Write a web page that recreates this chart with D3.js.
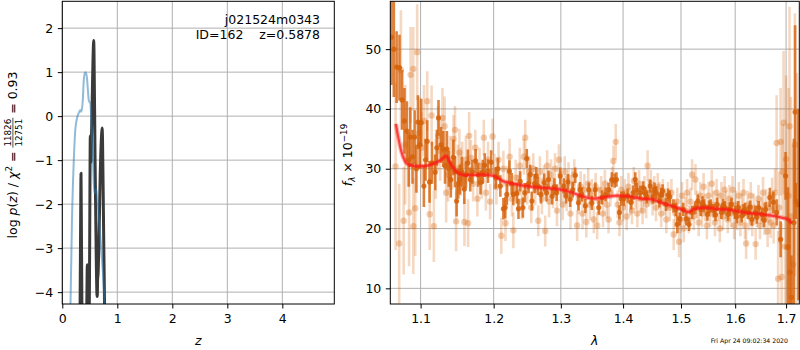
<!DOCTYPE html>
<html>
<head>
<meta charset="utf-8">
<script src="https://cdn.jsdelivr.net/npm/d3@7"></script>
<style>
  body { margin: 0; background: #fff; }
  text { font-family: "DejaVu Sans", sans-serif; }
</style>
</head>
<body>
<div id="chart"></div>
<script>
// ---- left panel: log p(z) ----
var blueZ = [0.140,0.150,0.176,0.207,0.236,0.267,0.298,0.328,0.345,0.371,0.389,0.405,0.419,0.434,0.449,0.465,0.480,0.495,0.509,0.527,0.553,0.582,0.600,0.618,0.632,0.649,0.670,0.691,0.713,0.735,0.760,0.780]
var blueV = [-5.0,-4.2,-2.36,-1.07,-0.31,-0.05,0.07,0.14,0.10,0.33,0.79,0.96,1.0,0.97,0.86,0.6,0.37,0.32,0.3,-0.08,-0.84,-1.75,-1.7,-1.67,-1.85,-2.05,-2.4,-2.74,-3.1,-3.49,-4.0,-4.6]

var darkZ = [0.300,0.322,0.336,0.340,0.344,0.358,0.400,0.440,0.451,0.455,0.459,0.475,0.490,0.503,0.509,0.514,0.519,0.535,0.555,0.566,0.571,0.576,0.595,0.618,0.630,0.636,0.642,0.650,0.662,0.690,0.715,0.724,0.731,0.752,0.775,0.800]
var darkV = [-8,-4.6,-1.9,-1.3,-1.9,-4.6,-7,-5,-3.6,-3.38,-3.6,-5,-4.6,-1.5,-0.45,-0.8,-1.05,-0.2,1.1,1.62,1.72,1.5,-0.9,-3.3,-4.05,-4.1,-3.7,-3.6,-3.1,-1.3,-0.4,-0.27,-0.5,-2.7,-5,-8]

var zTicks = [0, 1, 2, 3, 4]
var lpTicks = [-4, -3, -2, -1, 0, 1, 2]

// ---- right panel: spectrum [wave, flux, err] ----
var modelWave = [1.068,1.075,1.084,1.099,1.112,1.126,1.134,1.141,1.150,1.161,1.183,1.200,1.214,1.233,1.254,1.273,1.300,1.315,1.336,1.352,1.368,1.391,1.407,1.430,1.447,1.469,1.493,1.504,1.513,1.522,1.540,1.567,1.593,1.617,1.649,1.676,1.692,1.702,1.712]
var modelFlux = [37.5,32.9,30.7,30.4,30.6,31.4,32.1,30.6,29.3,28.9,29.0,28.8,27.9,27.4,27.0,26.8,26.5,26.1,25.3,25.0,25.2,25.5,25.4,25.0,24.9,24.2,23.5,23.1,22.75,23.2,23.5,23.3,23.1,22.7,22.4,22.1,21.8,21.6,20.9]

var lightPoints = [
  [1.0677,30.4,14],[1.0723,17.5,10],[1.0745,46.5,10],[1.078,21.3,9],[1.080,34,10],[1.085,22.7,9],
  [1.087,45.7,8],[1.0904,46.7,7],[1.0905,20.4,8],[1.093,23.4,8],[1.0955,49.5,8],[1.098,36,6],
  [1.101,33.5,6],[1.1045,38,6],[1.1087,41.3,5],[1.112,22.4,6],[1.1145,38.9,5],[1.1175,20.4,6],
  [1.120,30,5],[1.123,35.5,5],[1.126,33,5],[1.129,38.5,5],[1.132,37.1,5],[1.134,26,5],
  [1.1365,29,4.5],[1.139,31,4.5],[1.142,30.5,4],[1.144,35,4],[1.146,36.5,4],[1.1475,21.2,5],
  [1.150,30,4],[1.152,32.7,4],[1.154,29.5,4],[1.156,30.5,4],[1.159,21.1,4],[1.161,31.5,4],
  [1.164,20.9,4],[1.1655,35.5,4],
  [1.168,31.8,3],[1.171,27.5,3],[1.174,33.5,3],[1.177,25,3],[1.180,30.5,3],[1.183,28,3],
  [1.186,35.2,3],[1.189,26,3],[1.192,31.5,3],[1.195,24.5,3],[1.1985,35.4,3],[1.201,29.5,3],
  [1.204,27,3],[1.207,31.5,3],[1.211,18.8,3],[1.214,30,3],[1.217,20.9,3],[1.220,27.5,3],
  [1.223,32,3],[1.2265,25,3],[1.2285,19.7,3],[1.232,28.5,3],[1.235,26,3],[1.238,30.5,3],
  [1.241,24.5,3],[1.244,32,3],[1.246,35.2,3],[1.249,27,3],[1.252,29.5,2.6],[1.255,23.5,2.6],
  [1.258,30,2.6],[1.261,26.5,2.6],[1.2655,21.3,2.6],[1.268,29.5,2.6],[1.271,25,2.6],[1.274,28,2.6],
  [1.276,19.6,2.6],[1.279,30.5,2.6],[1.282,24.5,2.6],[1.285,29,2.6],[1.288,26,2.6],[1.291,30,2.6],
  [1.294,23,2.6],[1.297,31.5,2.6],[1.300,27,2.6],[1.303,24,2.6],[1.306,29.5,2.6],[1.309,25.5,2.6],
  [1.312,28.5,2.6],[1.315,22.5,2.6],[1.318,27.5,2.6],[1.321,29,2.6],[1.3255,20.5,2.6],[1.328,25,2.6],
  [1.331,27,2.6],[1.334,22.5,2.6],[1.337,26.5,2.6],[1.340,21.1,2.6],[1.343,27.5,2.6],[1.346,24,2.6],
  [1.349,26,2.3],[1.352,21.5,2.3],[1.355,27,2.3],[1.3575,20.5,2.3],[1.361,24.5,2.3],[1.364,26.5,2.3],
  [1.367,22.5,2.3],[1.370,27.5,2.3],[1.373,24,2.3],[1.376,21.5,2.3],[1.379,26,2.3],[1.382,28,2.3],
  [1.384,31.3,2.6],[1.3878,34.5,3],[1.391,24,2.3],[1.394,21,2.3],[1.397,26.5,2.3],[1.400,23.5,2.3],
  [1.403,26,2.3],[1.406,22,2.3],[1.409,27,2.3],[1.412,24.5,2.3],[1.415,23,2.3],[1.418,28,2.3],
  [1.421,25.5,2.3],[1.424,22.5,2.3],[1.427,27.5,2.3],[1.430,25,2.3],[1.433,23,2.3],[1.436,26.5,2.3],
  [1.439,24,2.3],[1.4415,30.5,2.6],[1.444,26,2.3],[1.447,27.5,2.3],[1.450,24.5,2.3],[1.453,26.5,2.3],
  [1.456,23.5,2.3],[1.459,27,2.3],[1.462,25.5,2.3],[1.465,22.5,2.3],[1.468,26,2.3],[1.471,24.5,2.3],
  [1.474,21.5,2.3],[1.477,25.5,2.3],[1.480,23.5,2.3],[1.483,26,2.3],[1.487,19,2.6],[1.490,22.5,2.3],
  [1.4935,24.5,2.3],[1.4965,17.8,2.6],[1.499,21.5,2.3],[1.502,25.5,2.3],[1.505,20,2.3],[1.508,23,2.3],
  [1.511,26,2.3],[1.514,21.5,2.3],[1.517,24.5,2.3],[1.520,29,2.6],[1.523,22,2.3],[1.526,28.2,2.6],
  [1.529,24,2.3],[1.532,21,2.3],[1.535,25.5,2.3],[1.538,22.5,2.3],[1.541,27,2.3],[1.544,23.5,2.3],
  [1.547,20.5,2.3],[1.550,25.5,2.3],[1.553,22.5,2.3],[1.556,27.5,2.3],[1.559,24,2.3],[1.562,21,2.3],
  [1.565,26,2.3],[1.568,23.5,2.3],[1.571,20,2.3],[1.574,25.5,2.3],[1.577,22,2.3],[1.580,26.5,2.3],
  [1.583,24,2.3],[1.586,21.5,2.3],[1.589,25,2.3],[1.592,22.5,2.3],[1.595,26.5,2.3],[1.598,20.5,2.3],
  [1.601,24,2.3],[1.604,22,2.3],[1.607,25.5,2.3],[1.610,21,2.3],[1.613,23.5,2.3],[1.616,26,2.3],
  [1.619,20.5,2.3],[1.621,17.5,2.6],[1.624,24,2.3],[1.627,22,2.3],[1.630,25.5,2.3],[1.633,21,2.3],
  [1.636,23.5,2.3],[1.6395,17.4,2.6],[1.642,22.5,2.3],[1.645,25,2.3],[1.648,20.5,2.3],[1.651,23,2.3],
  [1.654,26,2.6],[1.657,21.5,2.6],[1.660,24,2.6],[1.663,19.5,2.6],[1.666,23.5,2.6],[1.669,21,2.6],
  [1.672,25.5,3],[1.675,20.5,3],
  [1.678,26,4],[1.681,34.3,8],[1.684,11.6,8],[1.686,23.5,6],[1.689,34.5,9],[1.691,11.9,9],
  [1.693,29.5,8],[1.695,37.7,12],[1.698,17,12],[1.700,31.6,14],[1.702,16.9,14],[1.705,25.5,18],
  [1.707,37.1,20],[1.710,22,20],[1.714,14,20],[1.718,34,22],[1.722,24,22]
]

var darkPoints = [
  [1.0625,52,8],[1.0655,50,8],[1.0690,47,6],[1.0727,46.9,5.5],[1.0761,41.5,5],[1.0790,38,5.5],
  [1.0822,36.3,5],[1.0845,31.5,4.5],[1.0865,35.3,5],[1.0895,32,4.5],[1.0922,35.3,4.5],[1.0945,30,4],
  [1.0965,37.8,4.5],[1.0990,34,4],[1.1008,37.7,4],[1.1043,27.1,3.5],[1.1065,31.5,3.5],[1.1087,34.6,3.5],
  [1.1118,27.8,3.5],[1.1150,31,3.5],[1.1192,29.4,3],[1.1215,33.5,3],[1.1237,38.5,3],[1.1271,34.0,3],
  [1.1302,33.3,3],[1.1325,30.5,3],[1.1350,33.3,3],[1.1375,30,3],[1.1403,28.2,3],[1.1438,31.9,3],
  [1.1460,29.5,2.6],[1.1482,24.6,2.6],[1.1505,27.5,2.5],[1.1527,28.2,2.5],[1.1555,29.5,2.5],[1.1588,26.6,2.5],
  [1.1610,29,2.2],[1.1637,31.0,2.2],[1.1670,28.2,2],[1.1700,29.5,2],[1.1745,31.3,2],[1.1780,29,2],
  [1.1814,27.7,2],[1.1845,29.5,2],[1.1873,30.6,2],[1.1919,29.6,2],[1.1965,31.1,2],[1.2030,28.5,1.8],
  [1.2060,30,1.8],[1.2096,27.1,1.8],[1.2140,23.3,1.8],[1.2165,23.5,1.8],[1.2190,25.7,1.8],[1.2227,29.6,1.8],
  [1.2260,27.5,1.8],[1.2285,25.7,1.8],[1.2335,25.9,1.7],[1.2360,23.3,1.7],[1.2385,27.9,1.7],[1.2425,23.5,1.7],
  [1.2455,26,1.6],[1.2483,31.7,1.6],[1.2510,27.5,1.6],[1.2535,29.05,1.6],[1.2560,24.6,1.6],[1.2600,27.5,1.6],
  [1.2625,28.8,1.5],[1.2650,27.1,1.5],[1.2695,25.7,1.5],[1.2745,27.7,1.5],[1.2780,26,1.5],[1.2810,28.2,1.5],
  [1.2865,25.4,1.4],[1.2900,27,1.4],[1.2935,26.0,1.4],[1.2990,28.8,1.4],[1.3045,27.1,1.3],[1.3080,25.5,1.3],
  [1.3110,27.8,1.3],[1.3145,24.9,1.3],[1.3185,26.5,1.3],[1.3225,28.9,1.3],[1.3275,24.3,1.3],[1.3300,26.5,1.3],
  [1.3330,25.7,1.2],[1.3385,23.8,1.2],[1.3440,26.5,1.2],[1.3490,24.3,1.2],[1.3545,26.5,1.2],[1.3600,23.5,1.2],
  [1.3655,25.2,1.2],[1.3710,25.7,1.2],[1.3760,26.5,1.2],[1.3815,28.2,1.2],[1.3860,28.0,1.2],[1.3890,28.2,1.2],
  [1.3940,22.7,1.2],[1.3970,25,1.2],[1.4010,25.0,1.2],[1.4075,25.5,1.2],[1.4135,24.4,1.2],[1.4170,26,1.2],
  [1.4205,28.2,1.2],[1.4230,26.5,1.2],[1.4290,26.0,1.1],[1.4340,26.8,1.1],[1.4375,25.8,1.1],[1.4405,25.3,1.1],
  [1.4460,27.1,1.1],[1.4505,25.3,1.1],[1.4535,26.6,1.1],[1.4565,26.0,1.1],[1.4620,24.6,1.1],[1.4650,25.7,1.1],
  [1.4675,26.3,1.1],[1.4735,24.05,1.1],[1.4770,25.6,1.1],[1.4800,25.3,1.1],[1.4865,23.8,1.1],[1.4910,23.2,1.1],
  [1.4935,20.7,1.5],[1.4980,21.6,1.1],[1.5040,23.2,1.1],[1.5095,21.6,1.1],[1.5145,20.7,1.1],[1.5200,22.7,1.1],
  [1.5260,23.5,1.1],[1.5305,24.6,1.1],[1.5360,23.2,1.1],[1.5390,24.3,1.1],[1.5420,23.8,1.1],[1.5480,22.4,1.1],
  [1.5510,23.6,1.1],[1.5540,23.8,1.1],[1.5600,23.0,1.1],[1.5630,22.3,1.1],[1.5660,24.05,1.1],[1.5740,22.7,1.1],
  [1.5770,23.9,1.1],[1.5800,23.5,1.1],[1.5865,22.4,1.1],[1.5900,23.3,1.1],[1.5930,24.05,1.1],[1.5995,22.7,1.1],
  [1.6030,22.0,1.1],[1.6060,23.5,1.1],[1.6125,22.1,1.1],[1.6160,23.0,1.1],[1.6190,23.2,1.1],[1.6255,22.7,1.1],
  [1.6290,23.6,1.1],[1.6320,21.55,1.1],[1.6390,22.7,1.1],[1.6420,21.9,1.1],[1.6455,23.5,1.1],[1.6520,22.4,1.1],
  [1.6560,21.4,1.2],[1.6590,23.2,1.2],[1.6675,25.2,1.6],[1.6745,24.4,1.8],[1.6810,22.7,2.2],[1.6890,18.2,3],
  [1.6990,28.8,4],[1.7040,16.9,10],[1.7080,12.7,9],[1.7110,8.5,7],[1.7160,21,14],[1.7184,39.5,14.5],
  [1.7200,24.6,3],[1.7253,24,16]
]

var lamTicks = [1.1, 1.2, 1.3, 1.4, 1.5, 1.6, 1.7]
var fluxTicks = [10, 20, 30, 40, 50]

var objName = 'j021524m0343'
var objInfo = 'ID=162    z=0.5878'
var stamp = 'Fri Apr 24 09:02:34 2020'

var width = 800, height = 350
var fs = 12.5
var gridColor = '#b0b0b0'
var orange = '#d6620a'

var svg = d3.select('#chart').append('svg')
    .attr('width', width)
    .attr('height', height)

var defs = svg.append('defs')

// ---------- left panel ----------
var L = {left: 62.3, right: 334.3, top: 1.3, bottom: 304}
var xz = d3.scaleLinear().domain([0, 4.945]).range([L.left, L.right])
var ylp = d3.scaleLinear().domain([-4.27, 2.61]).range([L.bottom, L.top])

// ---------- right panel ----------
var R = {left: 390.3, right: 799.3, top: 1.3, bottom: 304}
var xl = d3.scaleLog().domain([1.061, 1.727]).range([R.left, R.right])
var yf = d3.scaleLinear().domain([7.38, 58]).range([R.bottom, R.top])

function clip(id, p) {
  defs.append('clipPath').attr('id', id)
    .append('rect')
    .attr('x', p.left).attr('y', p.top)
    .attr('width', p.right - p.left).attr('height', p.bottom - p.top)
}
clip('clipL', L)
clip('clipR', R)

function grid(p, xs, xt, ys, yt) {
  var g = svg.append('g').attr('class', 'grid')
  g.selectAll('.gx').data(xt).enter().append('line')
    .attr('x1', function(d) { return xs(d) }).attr('x2', function(d) { return xs(d) })
    .attr('y1', p.top).attr('y2', p.bottom)
    .style('stroke', gridColor).style('stroke-width', 1)
  g.selectAll('.gy').data(yt).enter().append('line')
    .attr('y1', function(d) { return ys(d) }).attr('y2', function(d) { return ys(d) })
    .attr('x1', p.left).attr('x2', p.right)
    .style('stroke', gridColor).style('stroke-width', 1)
}

function axes(p, xs, xt, xfmt, ys, yt, yfmt) {
  var gx = svg.append('g')
    .attr('transform', 'translate(0,' + p.bottom + ')')
    .call(d3.axisBottom(xs).tickValues(xt).tickFormat(xfmt).tickSize(4.5).tickPadding(6))
  var gy = svg.append('g')
    .attr('transform', 'translate(' + p.left + ',0)')
    .call(d3.axisLeft(ys).tickValues(yt).tickFormat(yfmt).tickSize(4.5).tickPadding(4.5))
  ;[gx, gy].forEach(function(g) {
    g.select('.domain').remove()
    g.selectAll('text').style('font-size', fs + 'px').style('font-family', '"DejaVu Sans", sans-serif').attr('fill', '#000')
    g.selectAll('line').attr('stroke', '#000')
  })
  svg.append('rect')
    .attr('x', p.left).attr('y', p.top)
    .attr('width', p.right - p.left).attr('height', p.bottom - p.top)
    .style('fill', 'none').style('stroke', '#000').style('stroke-width', 1)
}

// left panel
grid(L, xz, zTicks, ylp, lpTicks)

var lineZ = d3.line()
  .x(function(d) { return xz(d[0]) })
  .y(function(d) { return ylp(d[1]) })
  .curve(d3.curveMonotoneX)

var gL = svg.append('g').attr('clip-path', 'url(#clipL)')
gL.append('path')
  .datum(d3.zip(darkZ, darkV))
  .attr('d', lineZ)
  .style('fill', 'none').style('stroke', '#3a3a3a').style('stroke-width', 3)
  .style('stroke-linejoin', 'round')
gL.append('path')
  .datum(d3.zip(blueZ, blueV))
  .attr('d', lineZ)
  .style('fill', 'none').style('stroke', '#1f77b4').style('stroke-opacity', 0.5).style('stroke-width', 2)

axes(L, xz, zTicks, d3.format('d'), ylp, lpTicks, function(d) { return d < 0 ? '\u2212' + (-d) : '' + d })

svg.append('text')
  .attr('x', 320).attr('y', 24)
  .attr('text-anchor', 'end')
  .style('font-size', fs + 'px')
  .text(objName)
svg.append('text')
  .attr('x', 320).attr('y', 39)
  .attr('text-anchor', 'end')
  .style('font-size', fs + 'px')
  .style('white-space', 'pre')
  .text(objInfo)

// right panel
grid(R, xl, lamTicks, yf, fluxTicks)

var gR = svg.append('g').attr('clip-path', 'url(#clipR)')

function drawPoints(data, barOpacity, dotOpacity, r) {
  var g = gR.append('g')
  g.selectAll('line').data(data).enter().append('line')
    .attr('x1', function(d) { return xl(d[0]) }).attr('x2', function(d) { return xl(d[0]) })
    .attr('y1', function(d) { return yf(d[1] - d[2]) }).attr('y2', function(d) { return yf(d[1] + d[2]) })
    .style('stroke', orange).style('stroke-width', 2.6).style('stroke-opacity', barOpacity)
  g.selectAll('circle').data(data).enter().append('circle')
    .attr('cx', function(d) { return xl(d[0]) })
    .attr('cy', function(d) { return yf(d[1]) })
    .attr('r', r)
    .style('fill', orange).style('fill-opacity', dotOpacity)
}
drawPoints(lightPoints, 0.25, 0.32, 3.2)
drawPoints(darkPoints, 0.8, 0.85, 2.6)

var lineM = d3.line()
  .x(function(d) { return xl(d[0]) })
  .y(function(d) { return yf(d[1]) })
  .curve(d3.curveMonotoneX)
gR.append('path')
  .datum(d3.zip(modelWave, modelFlux))
  .attr('d', lineM)
  .style('fill', 'none').style('stroke', '#ff0000').style('stroke-opacity', 0.3).style('stroke-width', 4.5)
gR.append('path')
  .datum(d3.zip(modelWave, modelFlux))
  .attr('d', lineM)
  .style('fill', 'none').style('stroke', '#ff1a1a').style('stroke-opacity', 0.75).style('stroke-width', 2.2)

axes(R, xl, lamTicks, d3.format('.1f'), yf, fluxTicks, d3.format('d'))

// axis labels
svg.append('text')
  .attr('x', (L.left + L.right) / 2).attr('y', 345)
  .attr('text-anchor', 'middle')
  .style('font-size', fs + 'px').style('font-style', 'italic')
  .text('z')
svg.append('text')
  .attr('x', (R.left + R.right) / 2).attr('y', 345)
  .attr('text-anchor', 'middle')
  .style('font-size', fs + 'px').style('font-style', 'italic')
  .text('\u03bb')

svg.append('text')
  .attr('x', 788).attr('y', 343)
  .attr('text-anchor', 'end')
  .style('font-size', '6.2px')
  .text(stamp)

// rotated math labels, laid out piece by piece
function mathLabel(cx, cy, pieces) {
  var g = svg.append('g').attr('transform', 'translate(' + cx + ',' + cy + ') rotate(-90)')
  var inner = g.append('g')
  var x = 0
  pieces.forEach(function(p) {
    if (p.frac) {
      var sz = fs * 0.7
      var num = inner.append('text').style('font-size', sz + 'px').text(p.frac[0])
      var den = inner.append('text').style('font-size', sz + 'px').text(p.frac[1])
      var w = Math.max(num.node().getComputedTextLength(), den.node().getComputedTextLength()) + 2
      num.attr('x', x + w / 2).attr('y', -6.3).attr('text-anchor', 'middle')
      den.attr('x', x + w / 2).attr('y', 4.8).attr('text-anchor', 'middle')
      inner.append('line')
        .attr('x1', x).attr('x2', x + w).attr('y1', -4.1).attr('y2', -4.1)
        .style('stroke', '#000').style('stroke-width', 0.7)
      x += w
      return
    }
    var t = inner.append('text')
      .attr('x', x).attr('y', p.dy || 0)
      .style('font-size', (p.size || fs) + 'px')
      .style('font-style', p.it ? 'italic' : 'normal')
      .style('white-space', 'pre')
      .text(p.t)
    x += t.node().getComputedTextLength()
  })
  inner.attr('transform', 'translate(' + (-x / 2) + ',0)')
}

mathLabel(17, 155, [
  {t: 'log '}, {t: 'p', it: true}, {t: '('}, {t: 'z', it: true}, {t: ') / '},
  {t: '\u03c7', it: true}, {t: '2', size: fs * 0.7, dy: -4.8}, {t: ' = '},
  {frac: ['11826', '12751']}, {t: ' = 0.93'}
])

mathLabel(352, 155, [
  {t: 'f', it: true}, {t: '\u03bb', it: true, size: fs * 0.7, dy: 2.6}, {t: ' \u00d7 10'},
  {t: '\u221219', size: fs * 0.7, dy: -4.8}
])
</script>
</body>
</html>
